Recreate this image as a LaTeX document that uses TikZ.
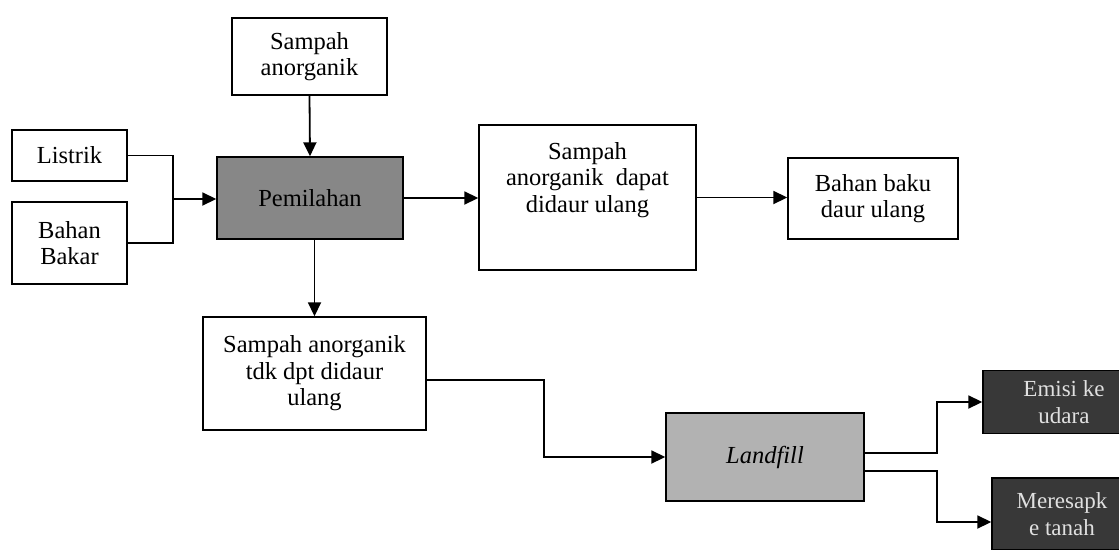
\documentclass[tikz,border=0pt]{standalone}
\usepackage{fontspec}
\setmainfont{Liberation Serif}
\usetikzlibrary{arrows.meta}
\begin{document}
\begin{tikzpicture}[x=1pt,y=-1pt,
  box/.style={draw=black,line width=1.4pt,fill=white,rectangle,inner sep=0pt,
    align=center,font=\fontsize{24.5}{26.5}\selectfont},
  midfill/.style={box,fill=black!47},
  lightfill/.style={box,fill=black!30},
  darkfill/.style={box,fill=black!78,text=black!12,font=\fontsize{23}{27}\selectfont},
  link/.style={line width=1.8pt},
  arr/.style={link,-{Triangle[length=14pt,width=13pt]}}]
\useasboundingbox (0,0) rectangle (1119,549);
\clip (0,0) rectangle (1119,549);
\fill[white] (0,0) rectangle (1119,549);

% process boxes
\node[box,minimum width=155pt,minimum height=77pt] (sa) at (309.5,56.5) {Sampah\\anorganik};
\node[box,minimum width=115pt,minimum height=51pt] (lis) at (69.5,155.5) {Listrik};
\node[box,minimum width=115pt,minimum height=82pt] (bb) at (69.5,243) {Bahan\\Bakar};
\node[midfill,minimum width=186pt,minimum height=82pt] (pem) at (310,198) {Pemilahan};
\node[box,minimum width=217pt,minimum height=145pt] (sad) at (587.5,197.5) {Sampah\\anorganik\ \ dapat\\didaur ulang\\[14pt]};
\node[box,minimum width=170pt,minimum height=81pt] (bbd) at (873,198.5) {Bahan baku\\daur ulang};
\node[box,minimum width=223pt,minimum height=113pt] (stk) at (314.5,373.5) {Sampah anorganik\\tdk dpt didaur\\ulang};
\node[lightfill,minimum width=198pt,minimum height=88pt] (lf) at (765,457) {\itshape Landfill};
\node[darkfill,minimum width=162pt,minimum height=63pt] (emisi) at (1064,402) {Emisi ke\\udara};
\node[darkfill,minimum width=140pt,minimum height=72pt] (meres) at (1062,514) {Meresapk\\e tanah};

% connectors
\coordinate (j1) at (173,199);
\draw[link] (lis.east) -| (j1);
\draw[link] (bb.east) -| (j1);
\draw[arr] (j1) -- (j1 -| pem.west);
\draw[arr] (sa.south) -- (pem.north);
\draw[arr] (pem.east) -- (pem.east -| sad.west);
\draw[arr] (stk.north |- pem.south) -- (stk.north);
\draw[arr] (sad.east) -- (sad.east -| bbd.west);

\coordinate (k1) at (544,380);
\draw[arr] (stk.east |- k1) -- (k1) |- (lf.west);

\coordinate (u1) at (937,453);
\draw[arr] (lf.east |- u1) -- (u1) |- (emisi.west);
\coordinate (l1) at (937,471);
\coordinate (l2) at (937,522);
\draw[arr] (lf.east |- l1) -- (l1) -- (l2) -- (l2 -| meres.west);
\end{tikzpicture}
\end{document}
